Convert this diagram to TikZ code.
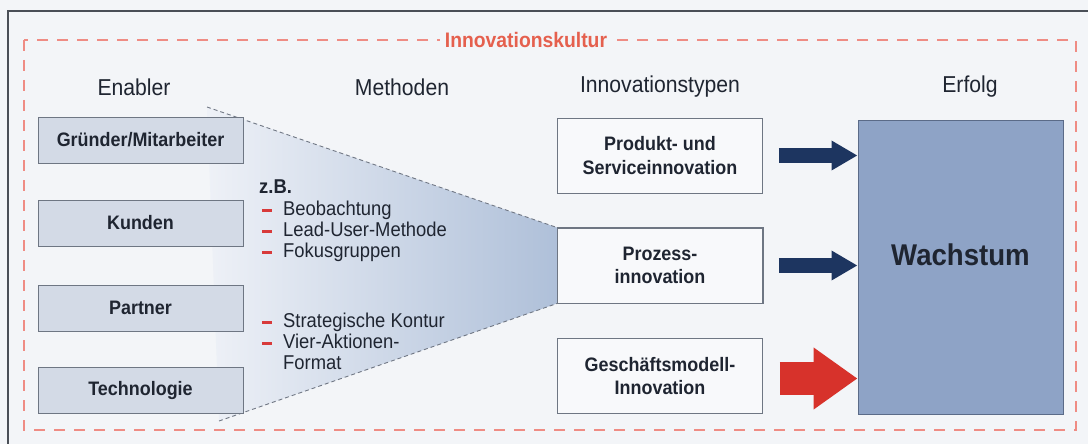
\documentclass[tikz,border=0pt]{standalone}
\usepackage{fontspec}
\setmainfont{Liberation Sans}[FakeStretch=0.92]
\usetikzlibrary{arrows.meta}
\definecolor{bg}{HTML}{F3F5F8}
\definecolor{frameline}{HTML}{4A4F57}
\definecolor{ink}{HTML}{1F2531}
\definecolor{boxline}{HTML}{6E7683}
\definecolor{enablerfill}{HTML}{D3DAE6}
\definecolor{typefill}{HTML}{F8F9FB}
\definecolor{growthfill}{HTML}{8EA3C6}
\definecolor{growthline}{HTML}{5B6B88}
\definecolor{navy}{HTML}{1D3560}
\definecolor{arrowred}{HTML}{D7322B}
\definecolor{titlered}{HTML}{E5604E}
\definecolor{culturered}{HTML}{EF8C84}
\definecolor{bulletred}{HTML}{D83A3A}
\definecolor{funnelgray}{HTML}{707784}
\definecolor{funnelleft}{HTML}{EEF1F7}
\definecolor{funnelright}{HTML}{AFC0D9}

\begin{document}
\begin{tikzpicture}[x=1pt,y=-1pt,
    enabler/.style={draw=boxline,fill=enablerfill,line width=0.9pt,minimum width=205pt,minimum height=46pt,
      font=\bfseries\fontsize{19.5}{23}\selectfont,text=ink},
    innotype/.style={draw=boxline,fill=typefill,line width=0.9pt,minimum width=205pt,minimum height=75pt,
      align=center,font=\bfseries\fontsize{19.5}{23.5}\selectfont,text=ink},
    heading/.style={font=\fontsize{23}{27}\selectfont,text=ink},
    method/.style={anchor=west,inner sep=0pt,text height=14pt,text depth=4pt,
      font=\fontsize{20}{22}\selectfont,text=ink},
    bullet/.style={draw=bulletred,line width=3pt},
    funnel/.style={draw=funnelgray,dash pattern=on 4pt off 3pt,line width=0.9pt},
    blockarrow/.style={line width=15pt,-{Triangle[length=26pt,width=28pt]}},
    bigarrow/.style={line width=33pt,-{Triangle[length=44pt,width=59pt]}},
  ]
  \useasboundingbox (0,0) rectangle (1088,444);
  \fill[bg] (0,0) rectangle (1088,444);
  \draw[frameline,line width=1.2pt] (8,444) -- (8,11) -- (1088,11);

  \draw[culturered,line width=1.5pt,dash pattern=on 11pt off 9pt] (24,40) rectangle (1076,430);
  \node[fill=bg,inner xsep=5pt,font=\bfseries\fontsize{21}{25}\selectfont,text=titlered] (culture) at (526,40) {Innovationskultur};

  \node[heading] (h1) at (134,87) {Enabler};
  \node[heading] (h2) at (402,87) {Methoden};
  \node[heading] (h3) at (660,87) {Innovationstypen};
  \node[heading] (h4) at (970,87) {Erfolg};

  \node[innotype] (produkt) at (660,155.5) {Produkt- und\\Serviceinnovation};
  \node[innotype] (prozess) at (660,265.5) {Prozess-\\innovation};
  \node[innotype] (modell) at (660,376) {Geschäftsmodell-\\Innovation};

  \coordinate (ftop) at (207,107);
  \coordinate (fbot) at (219,421);
  \shade[left color=funnelleft,right color=funnelright] (ftop) -- (prozess.north west) -- (prozess.south west) -- (fbot) -- cycle;
  \draw[funnel] (ftop) -- (prozess.north west);
  \draw[funnel] (fbot) -- (prozess.south west);
  \draw[boxline,line width=0.9pt] (prozess.north west) rectangle (prozess.south east);

  \node[enabler] (gruender) at (140.5,140) {Gründer/Mitarbeiter};
  \node[enabler] (kunden) at (140.5,223) {Kunden};
  \node[enabler] (partner) at (140.5,308) {Partner};
  \node[enabler] (technik) at (140.5,390.5) {Technologie};

  \node[method,font=\bfseries\fontsize{20}{22}\selectfont] (zb) at (259,188) {z.B.};
  \node[method] (beob) at (283,210) {Beobachtung};
  \node[method] (lead) at (283,231) {Lead-User-Methode};
  \node[method] (fokus) at (283,252) {Fokusgruppen};
  \node[method] (kontur) at (283,322) {Strategische Kontur};
  \node[method] (vier) at (283,343) {Vier-Aktionen-};
  \node[method] (format) at (283,364) {Format};
  \foreach \m in {beob,lead,fokus,kontur,vier}
    \draw[bullet] ([xshift=-21pt]\m.west) -- ++(10,0);

  \node[draw=growthline,fill=growthfill,line width=0.9pt,minimum width=205pt,minimum height=294pt] (wachstum) at (960.5,267) {};
  \node[font=\bfseries\fontsize{30}{34}\selectfont,text=ink] (growth) at (960.5,255) {Wachstum};

  \draw[blockarrow,navy] ([xshift=16pt]produkt.east) -- (wachstum.west |- produkt.east);
  \draw[blockarrow,navy] ([xshift=16pt]prozess.east) -- (wachstum.west |- prozess.east);
  \draw[bigarrow,arrowred] ([xshift=17pt,yshift=-2.5pt]modell.east) -- ([yshift=-2.5pt]wachstum.west |- modell.east);
\end{tikzpicture}
\end{document}
